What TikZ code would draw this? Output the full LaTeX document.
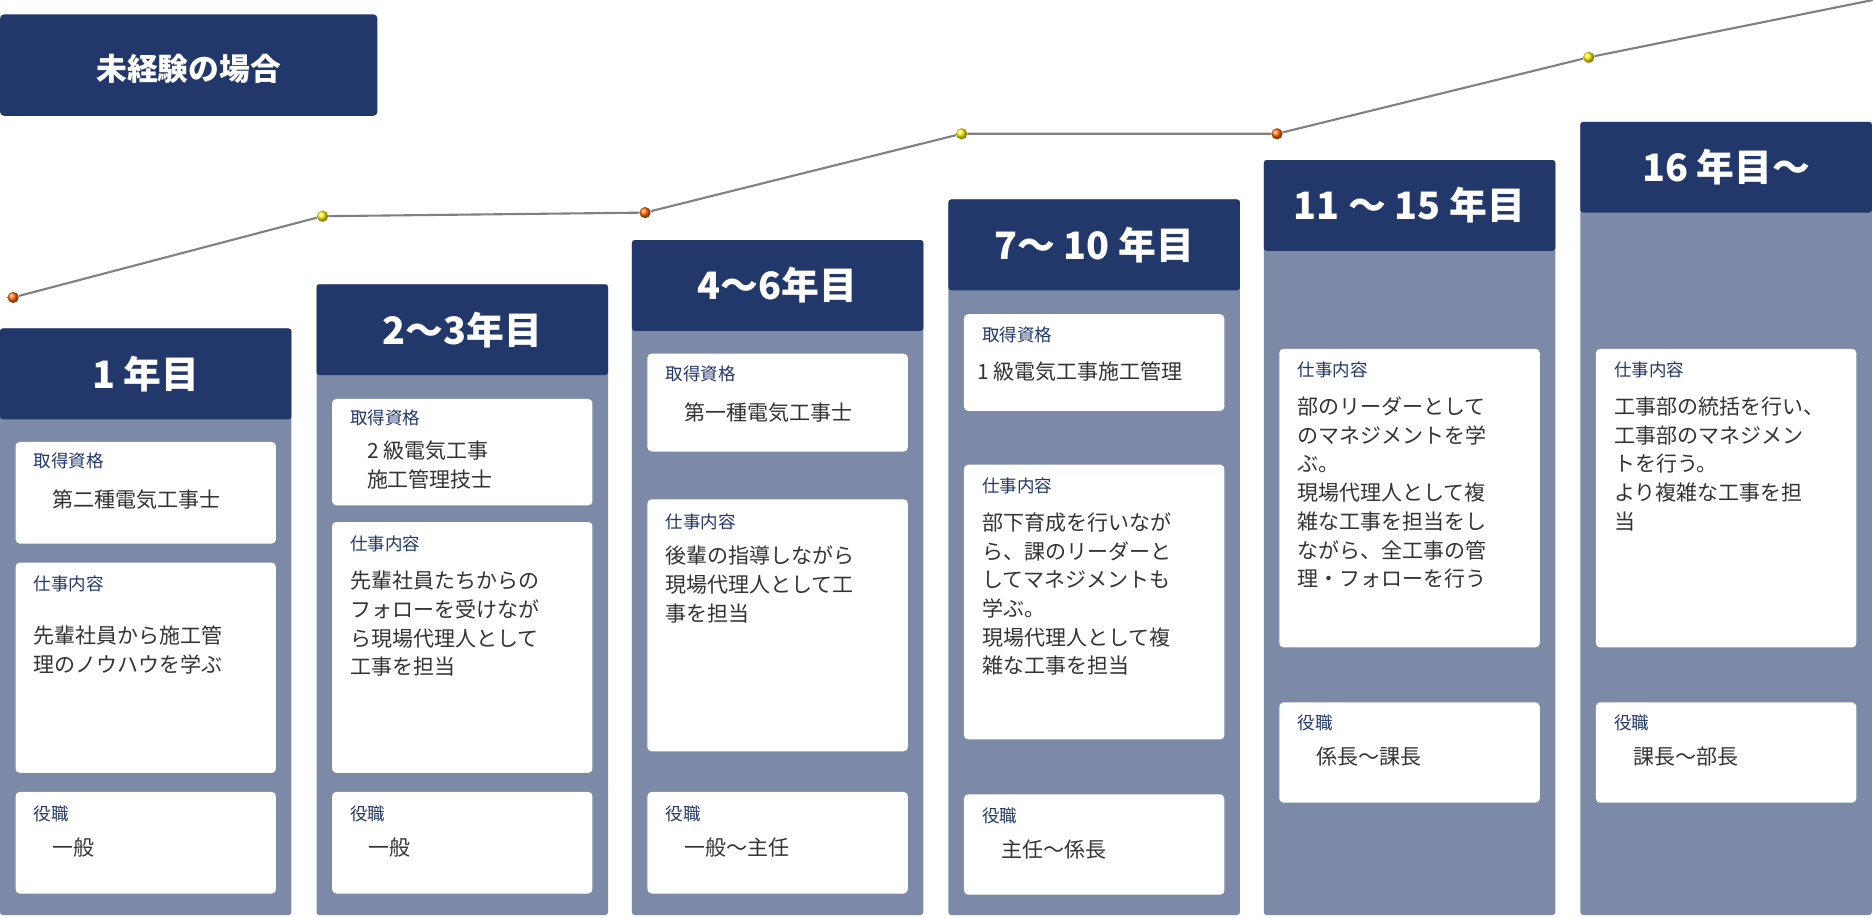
\documentclass[tikz,border=0pt]{standalone}
\usepackage{fontspec}
\setmainfont{Noto Sans CJK JP}
\definecolor{navy}{HTML}{22386A}
\definecolor{slate}{HTML}{7D8AA7}
\definecolor{ink}{HTML}{333333}
\tikzset{
    col/.style={fill=slate, draw=none, rounded corners=2pt},
    head/.style={fill=navy, text=white, font=\fontsize{27}{30}\selectfont\bfseries},
    card/.style={fill=white, rounded corners=3pt},
    lbl/.style={anchor=west, text=navy, inner sep=0pt, font=\fontsize{12.5}{15}\selectfont},
    txt/.style={anchor=north west, text=ink, inner sep=0pt, align=left, font=\fontsize{15}{20.5}\selectfont},
    dot/.style={circle, inner sep=0pt, minimum size=20\pgflinewidth},
}
\begin{document}
\begin{tikzpicture}[x=0.03cm, y=-0.03cm]
    \useasboundingbox (0,0) rectangle (1568,768);

    % title
    \fill[navy, rounded corners=3pt] (0,12) rectangle (316,97);
    \node (title) [text=white, font=\fontsize{22}{26}\selectfont\bfseries] at (158,58) {未経験の場合};

    % columns
    \foreach \x/\t/\h in {0/275/1 年目, 265/238/2～3年目, 529/201/4～6年目,
                          794/167/7～ 10 年目, 1058/134/11 ～ 15 年目, 1323/102/16 年目～} {
        \fill[slate, rounded corners=2pt] (\x,\t) rectangle (\x+244,766);
        \fill[navy, rounded corners=2pt] (\x,\t) rectangle (\x+244,\t+76);
        \node[text=white, font=\fontsize{27}{30}\selectfont\bfseries] at (\x+122,\t+38) {\h};
    }

    % cards
    \foreach \x/\a/\b in {0/370/455, 0/471/647, 0/663/748,
                          265/334/423, 265/437/647, 265/663/748,
                          529/296/378, 529/418/629, 529/663/748,
                          794/263/344, 794/389/619, 794/665/749,
                          1058/292/542, 1058/588/672,
                          1323/292/542, 1323/588/672}
        \fill[white, rounded corners=3pt] (\x+13,\a) rectangle (\x+231,\b);

    % year 1
    \node (q1) [lbl] at (28,386) {取得資格};
    \node (q1t) [txt] at (44,410) {第二種電気工事士};
    \node (w1) [lbl] at (28,489) {仕事内容};
    \node (w1t) [txt] at (28,524) {先輩社員から施工管\\理のノウハウを学ぶ};
    \node (p1) [lbl] at (28,681) {役職};
    \node (p1t) [txt] at (44,701) {一般};

    % year 2-3
    \node (q2) [lbl] at (293,350) {取得資格};
    \node (q2t) [txt] at (307,369) {2 級電気工事\\施工管理技士};
    \node (w2) [lbl] at (293,455) {仕事内容};
    \node (w2t) [txt] at (293,478) {先輩社員たちからの\\フォローを受けなが\\ら現場代理人として\\工事を担当};
    \node (p2) [lbl] at (293,681) {役職};
    \node (p2t) [txt] at (308,701) {一般};

    % year 4-6
    \node (q3) [lbl] at (557,313) {取得資格};
    \node (q3t) [txt] at (573,337) {第一種電気工事士};
    \node (w3) [lbl] at (557,437) {仕事内容};
    \node (w3t) [txt] at (557,457) {後輩の指導しながら\\現場代理人として工\\事を担当};
    \node (p3) [lbl] at (557,681) {役職};
    \node (p3t) [txt] at (573,701) {一般～主任};

    % year 7-10
    \node (q4) [lbl] at (822,280) {取得資格};
    \node (q4t) [txt] at (818,303) {1 級電気工事施工管理};
    \node (w4) [lbl] at (822,407) {仕事内容};
    \node (w4t) [txt] at (822,429) {部下育成を行いなが\\ら、課のリーダーと\\してマネジメントも\\学ぶ。\\現場代理人として複\\雑な工事を担当};
    \node (p4) [lbl] at (822,683) {役職};
    \node (p4t) [txt] at (838,703) {主任～係長};

    % year 11-15
    \node (w5) [lbl] at (1086,310) {仕事内容};
    \node (w5t) [txt] at (1086,332) {部のリーダーとして\\のマネジメントを学\\ぶ。\\現場代理人として複\\雑な工事を担当をし\\ながら、全工事の管\\理・フォローを行う};
    \node (p5) [lbl] at (1086,605) {役職};
    \node (p5t) [txt] at (1102,625) {係長～課長};

    % year 16-
    \node (w6) [lbl] at (1351,310) {仕事内容};
    \node (w6t) [txt] at (1351,332) {工事部の統括を行い、\\工事部のマネジメン\\トを行う。\\より複雑な工事を担\\当};
    \node (p6) [lbl] at (1351,605) {役職};
    \node (p6t) [txt] at (1367,625) {課長～部長};

    % career line
    \coordinate (end) at (1568,0);
    \node (d1) [dot, ball color=orange!80!red] at (11,249) {};
    \node (d2) [dot, ball color=yellow!90!orange] at (270,181) {};
    \node (d3) [dot, ball color=orange!80!red] at (540,178) {};
    \node (d4) [dot, ball color=yellow!90!orange] at (805,112) {};
    \node (d5) [dot, ball color=orange!80!red] at (1069,112) {};
    \node (d6) [dot, ball color=yellow!90!orange] at (1330,48) {};
    \draw[gray, line width=1.5pt] (d1) -- (d2) -- (d3) -- (d4) -- (d5) -- (d6) -- (end);
\end{tikzpicture}
\end{document}
